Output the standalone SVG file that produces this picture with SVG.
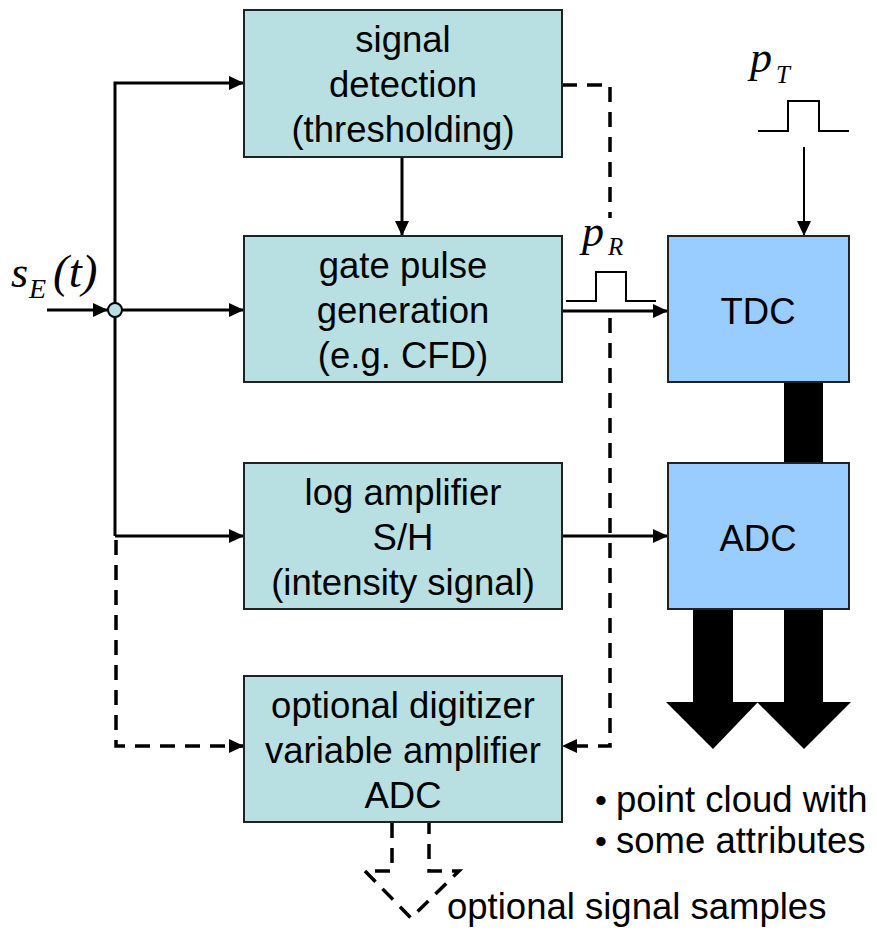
<svg xmlns="http://www.w3.org/2000/svg" width="877" height="939" viewBox="0 0 877 939">
<style>
.t{font-family:"Liberation Sans",Arial,sans-serif;font-size:36.5px;fill:#000;text-anchor:middle}
.tl{font-family:"Liberation Sans",Arial,sans-serif;font-size:36.5px;fill:#000}
.m{font-family:"Liberation Serif","Times New Roman",serif;font-style:italic;fill:#000}
.box{fill:#B8E0E2;stroke:#222;stroke-width:2}
.bbox{fill:#99CCFF;stroke:#222;stroke-width:2}
.ln{fill:none;stroke:#000;stroke-width:3}
.dl{fill:none;stroke:#000;stroke-width:3.5;stroke-dasharray:15,10}
.thin{fill:none;stroke:#000;stroke-width:2}
</style>
<defs>
<marker id="ah" markerUnits="userSpaceOnUse" markerWidth="16" markerHeight="15" refX="15" refY="7" orient="auto">
<path d="M0,0 L15,7 L0,14 z" fill="#000"/>
</marker>
</defs>
<rect width="877" height="939" fill="#fff"/>

<g id="connectors">
<line class="ln" x1="47" y1="310" x2="108" y2="310" marker-end="url(#ah)"/>
<path class="ln" d="M115,536 V83 H244" marker-end="url(#ah)"/>
<line class="ln" x1="115" y1="310" x2="244" y2="310" marker-end="url(#ah)"/>
<line class="ln" x1="115" y1="536" x2="244" y2="536" marker-end="url(#ah)"/>
<path class="dl" d="M116,540 V746 H244" marker-end="url(#ah)"/>
<line class="ln" x1="402" y1="157" x2="402" y2="236" marker-end="url(#ah)"/>
<path class="dl" d="M562,85 H610 V218"/>
<path class="dl" d="M610,318 V746 H562" marker-end="url(#ah)"/>
<line class="ln" x1="562" y1="311" x2="668" y2="311" marker-end="url(#ah)"/>
<line class="ln" x1="562" y1="536" x2="668" y2="536" marker-end="url(#ah)"/>
<line class="thin" x1="804" y1="147" x2="804" y2="236" marker-end="url(#ah)"/>
<rect x="784" y="382" width="39" height="81" fill="#000"/>
<polygon points="693,609 733,609 733,702 758,702 713,749 666,702 693,702" fill="#000"/>
<polygon points="784,609 823,609 823,702 851,702 804,749 757,702 784,702" fill="#000"/>
<polyline class="dl" points="392,823 392,871 365,871 411,918 459,871 429,871 429,823"/>
<circle cx="115" cy="310" r="7" fill="#B8E0E2" stroke="#000" stroke-width="2"/>
</g>

<g id="pulseR">
<polyline class="thin" points="566,301 596,301 596,272 626,272 626,301 656,301"/>
<text class="m" x="582" y="246" font-size="44">p</text>
<text class="m" x="608" y="255" font-size="25">R</text>
</g>
<g id="pulseT">
<polyline class="thin" points="758,131 788,131 788,101 819,101 819,131 849,131"/>
<text class="m" x="750" y="72" font-size="44">p</text>
<text class="m" x="776" y="83" font-size="25">T</text>
</g>

<g id="input">
<text class="m" x="11" y="287" font-size="44">s</text>
<text class="m" x="29" y="298" font-size="28">E</text>
<text class="m" x="53" y="287" font-size="47" font-style="normal">(<tspan font-style="italic">t</tspan>)</text>
</g>

<g id="signal-detection">
<rect class="box" x="244" y="10" width="318" height="147"/>
<text class="t" x="403" y="52">signal</text>
<text class="t" x="403" y="97">detection</text>
<text class="t" x="403" y="142">(thresholding)</text>
</g>
<g id="gate-pulse">
<rect class="box" x="244" y="236" width="318" height="146"/>
<text class="t" x="403" y="278">gate pulse</text>
<text class="t" x="403" y="323">generation</text>
<text class="t" x="403" y="368">(e.g. CFD)</text>
</g>
<g id="log-amp">
<rect class="box" x="244" y="463" width="318" height="146"/>
<text class="t" x="403" y="505">log amplifier</text>
<text class="t" x="403" y="550">S/H</text>
<text class="t" x="403" y="595">(intensity signal)</text>
</g>
<g id="digitizer">
<rect class="box" x="244" y="676" width="318" height="146"/>
<text class="t" x="403" y="718">optional digitizer</text>
<text class="t" x="403" y="763">variable amplifier</text>
<text class="t" x="403" y="808">ADC</text>
</g>
<g id="tdc">
<rect class="bbox" x="668" y="236" width="181" height="146"/>
<text class="t" x="758" y="324">TDC</text>
</g>
<g id="adc">
<rect class="bbox" x="668" y="463" width="181" height="146"/>
<text class="t" x="758" y="551">ADC</text>
</g>

<g id="labels">
<text class="tl" y="812"><tspan x="595" font-size="34">•</tspan><tspan x="616">point cloud with</tspan></text>
<text class="tl" y="853"><tspan x="595" font-size="34">•</tspan><tspan x="616">some attributes</tspan></text>
<text class="tl" x="447" y="919">optional signal samples</text>
</g>
</svg>
